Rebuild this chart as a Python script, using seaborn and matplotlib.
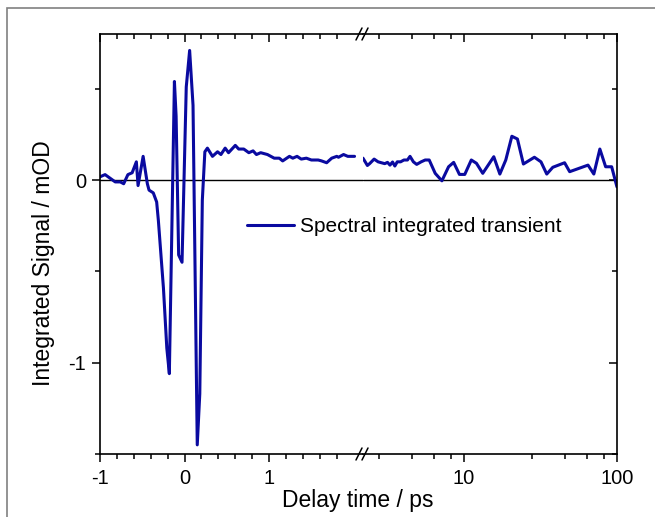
import numpy as np
import pandas as pd
import matplotlib
matplotlib.use("Agg")
import matplotlib.pyplot as plt
from matplotlib.ticker import FixedLocator, FixedFormatter, NullFormatter
from matplotlib.lines import Line2D
from matplotlib.patches import Rectangle
import seaborn as sns

# --- data (delay in ps, signal in mOD) ---
t_short = [-1.00, -0.94, -0.88, -0.82, -0.76, -0.72, -0.67, -0.62, -0.57, -0.55,
           -0.49, -0.44, -0.42, -0.37, -0.33, -0.31, -0.25, -0.21, -0.18, -0.12,
           -0.10, -0.07, -0.03, 0.02, 0.06, 0.10, 0.15, 0.18, 0.21, 0.24,
           0.27, 0.33, 0.39, 0.43, 0.48, 0.52, 0.60, 0.64, 0.70, 0.76,
           0.81, 0.85, 0.90, 0.98, 1.06, 1.12, 1.16, 1.24, 1.28, 1.33,
           1.38, 1.44, 1.50, 1.58, 1.62, 1.68, 1.74, 1.80, 1.82, 1.88,
           1.93, 2.01]
s_short = [0.018, 0.03, 0.01, -0.01, -0.01, -0.02, 0.03, 0.04, 0.10, -0.03,
           0.13, -0.02, -0.055, -0.07, -0.12, -0.22, -0.59, -0.92, -1.06, 0.54,
           0.35, -0.41, -0.45, 0.51, 0.71, 0.41, -1.45, -1.17, -0.11, 0.155,
           0.175, 0.13, 0.155, 0.14, 0.175, 0.15, 0.19, 0.17, 0.17, 0.15,
           0.16, 0.14, 0.15, 0.14, 0.12, 0.12, 0.105, 0.13, 0.12, 0.13,
           0.115, 0.12, 0.11, 0.11, 0.105, 0.095, 0.12, 0.13, 0.125, 0.14,
           0.13, 0.13]

t_long = [2.20, 2.35, 2.43, 2.60, 2.76, 2.90, 3.05, 3.18, 3.30, 3.43,
          3.55, 3.68, 3.87, 4.07, 4.29, 4.46, 4.69, 4.93, 5.27, 5.60,
          5.95, 6.51, 7.20, 7.96, 8.59, 9.37, 10.15, 11.2, 12.1, 13.3,
          15.7, 17.2, 18.8, 20.6, 22.4, 24.5, 28.9, 31.9, 34.8, 38.1,
          45.5, 49.1, 64.7, 70.6, 77.3, 84.3, 92.3, 99.9]
s_long = [0.12, 0.08, 0.09, 0.115, 0.10, 0.095, 0.09, 0.097, 0.082, 0.099,
          0.077, 0.10, 0.10, 0.11, 0.11, 0.13, 0.10, 0.086, 0.10, 0.11,
          0.11, 0.037, -0.004, 0.073, 0.097, 0.031, 0.031, 0.11, 0.092, 0.037,
          0.128, 0.033, 0.11, 0.24, 0.225, 0.088, 0.125, 0.10, 0.033, 0.07,
          0.095, 0.046, 0.082, 0.033, 0.17, 0.073, 0.073, -0.037]

left_ticks = [-1, 0, 1]
right_ticks = [10, 100]
right_tick_labels = ["10", "100"]
y_ticks = [-1, 0]
y_tick_labels = ["-1", "0"]

LINE_COLOR = "#0A0AA0"

sns.set_theme(style="ticks")
plt.rcParams["font.family"] = ["Liberation Sans", "DejaVu Sans"]
plt.rcParams["text.color"] = "black"

W, H = 655, 517
fig = plt.figure(figsize=(W / 100, H / 100), dpi=100)

x0, xb, x1 = 100, 363, 617
ytop, ybot = 34, 454
bottom = (H - ybot) / H
height = (ybot - ytop) / H
ax_l = fig.add_axes([x0 / W, bottom, (xb - x0) / W, height])
ax_r = fig.add_axes([xb / W, bottom, (x1 - xb) / W, height])

df_short = pd.DataFrame({"t": t_short, "s": s_short})
df_long = pd.DataFrame({"t": t_long, "s": s_long})

sns.lineplot(data=df_short, x="t", y="s", ax=ax_l, color=LINE_COLOR, lw=2.2,
             sort=False, estimator=None)
sns.lineplot(data=df_long, x="t", y="s", ax=ax_r, color=LINE_COLOR, lw=2.2,
             sort=False, estimator=None)

for ax in (ax_l, ax_r):
    ax.axhline(0, color="black", lw=1.0, zorder=1)
    ax.set_ylim(-1.5, 0.8)
    ax.set_xlabel("")
    ax.set_ylabel("")
    for sp in ax.spines.values():
        sp.set_color("black")
        sp.set_linewidth(1.2)
    ax.yaxis.set_major_locator(FixedLocator(y_ticks))
    ax.yaxis.set_minor_locator(FixedLocator([-1.5, -0.5, 0.5]))
    ax.tick_params(which="both", colors="black", labelcolor="black",
                   labelsize=14.5, width=1.1)
    ax.tick_params(which="major", length=6)
    ax.tick_params(which="minor", length=3.5)
    ax.tick_params(axis="x", which="both", top=True, bottom=True, pad=5)

# left (linear) segment
ax_l.set_xlim(-1, 2.11)
ax_l.spines["right"].set_visible(False)
ax_l.xaxis.set_major_locator(FixedLocator(left_ticks))
ax_l.xaxis.set_major_formatter(FixedFormatter([str(v) for v in left_ticks]))
ax_l.xaxis.set_minor_locator(FixedLocator(np.arange(-0.8, 1.9, 0.2)))
ax_l.yaxis.set_major_formatter(FixedFormatter(y_tick_labels))
ax_l.tick_params(axis="x", which="both", direction="out")
ax_l.tick_params(axis="y", which="both", direction="out", right=False, pad=4)
ax_l.tick_params(axis="x", which="both", top=True, labeltop=False)
# top ticks point inward
for tk in ax_l.xaxis.get_major_ticks() + ax_l.xaxis.get_minor_ticks():
    tk.tick2line.set_marker(3)

# right (log) segment
ax_r.set_xscale("log")
ax_r.set_xlim(2.2, 100)
ax_r.spines["left"].set_visible(False)
ax_r.xaxis.set_major_locator(FixedLocator(right_ticks))
ax_r.xaxis.set_major_formatter(FixedFormatter(right_tick_labels))
ax_r.xaxis.set_minor_locator(FixedLocator([2.8, 4.6, 6.4, 8.2, 28, 46, 64, 82]))
ax_r.xaxis.set_minor_formatter(NullFormatter())
ax_r.tick_params(axis="x", which="both", direction="out")
ax_r.tick_params(axis="y", which="both", left=False, labelleft=False,
                 right=True, direction="in")
for tk in ax_r.xaxis.get_major_ticks() + ax_r.xaxis.get_minor_ticks():
    tk.tick2line.set_marker(3)

# axis break marks
for yp in (ytop, ybot):
    for dx in (-4, 2):
        fig.add_artist(Line2D([(xb + dx - 3) / W, (xb + dx + 3) / W],
                              [1 - (yp + 6) / H, 1 - (yp - 6) / H],
                              color="black", lw=1.1))

fig.text(358 / W, 1 - 501 / H, "Delay time / ps", ha="center",
         va="center", fontsize=16.5)
fig.text(44 / W, 1 - 263 / H, "Integrated Signal / mOD",
         rotation=90, ha="center", va="center", fontsize=16.5)

fig.legend(handles=[Line2D([], [], color=LINE_COLOR, lw=2.2)],
           labels=["Spectral integrated transient"],
           loc="center left", bbox_to_anchor=(247 / W, 1 - 227 / H),
           frameon=False, fontsize=15, handlelength=2.25, handletextpad=0.3,
           borderpad=0, borderaxespad=0)

# outer frame of the original page
fig.add_artist(Rectangle((7 / W, -0.1), 1.2, 1 - 8 / H + 0.1,
                         transform=fig.transFigure, fill=False,
                         edgecolor="#808080", lw=1.2))

fig.savefig("out.png", dpi=100)
